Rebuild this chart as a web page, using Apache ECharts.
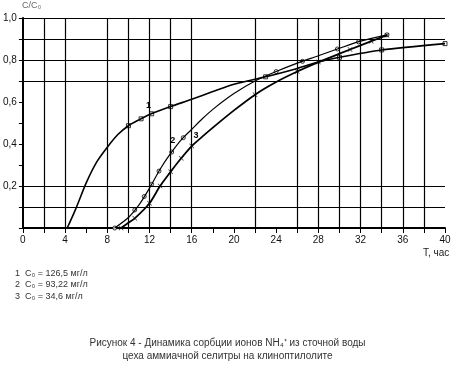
<!DOCTYPE html>
<html>
<head>
<meta charset="utf-8">
<script src="https://cdn.jsdelivr.net/npm/echarts@6/dist/echarts.min.js"></script>
<style>
html,body{margin:0;padding:0;background:#fff;}
#chart{width:455px;height:365px;}
</style>
</head>
<body>
<div id="chart"></div>
<script>
// ---- data ----
const curve1X = [4.2, 5, 6, 7, 8, 9, 10, 11, 12, 14, 16, 18, 20, 23, 26, 28, 30, 34, 40];
const curve1Y = [0, 0.09, 0.215, 0.315, 0.385, 0.445, 0.487, 0.515, 0.54, 0.578, 0.613, 0.65, 0.685, 0.72, 0.76, 0.79, 0.813, 0.848, 0.878];
const curve1MarkX = [10, 11.2, 12.2, 14, 23, 30, 34, 40];

const curve2X = [8.7, 10, 11, 12, 13, 14, 15, 16, 17, 18, 20, 22, 24, 26, 28, 30, 32, 34.5];
const curve2Y = [0, 0.05, 0.11, 0.19, 0.28, 0.355, 0.42, 0.47, 0.52, 0.565, 0.64, 0.7, 0.745, 0.785, 0.82, 0.856, 0.89, 0.92];
const curve2MarkX = [8.7, 10.6, 11.5, 12.2, 12.9, 14.1, 15.2, 24, 26.5, 29.8, 31.8, 34.5];

const curve3X = [9.3, 10, 10.6, 12, 13, 14, 15, 16, 17, 18, 20, 22, 24, 26, 28, 30, 32, 34.5];
const curve3Y = [0, 0.025, 0.046, 0.118, 0.2, 0.268, 0.332, 0.39, 0.435, 0.478, 0.56, 0.635, 0.695, 0.745, 0.79, 0.83, 0.87, 0.918];
const curve3MarkX = [9.3, 10.6, 12, 13, 14, 15, 16, 22, 26, 28, 31, 33, 34.5];

const xGridLines = [2, 4, 8, 10, 12, 14, 16, 22, 26, 28, 30, 32, 34, 36, 38];
const yGridLines = [0.1, 0.2, 0.7, 0.8, 0.9, 1.0];
const xLabelValues = [0, 4, 8, 12, 16, 20, 24, 28, 32, 36, 40];
const yLabelValues = [0.2, 0.4, 0.6, 0.8, 1.0];

const curveLabels = ['1', '2', '3'];
const curveLabelPos = [[11.9, 0.585], [14.2, 0.415], [16.4, 0.44]];

const legendLines = ['1  C₀ = 126,5 мг/л', '2  C₀ = 93,22 мг/л', '3  C₀ = 34,6 мг/л'];
const captionLines = ['Рисунок 4 - Динамика сорбции ионов NH₄⁺ из сточной воды', 'цеха аммиачной селитры на клиноптилолите'];

// ---- helpers ----
function pairs(xs, ys) { return xs.map((x, i) => [x, ys[i]]); }
function interp(xs, ys, x) {
  for (let i = 0; i < xs.length - 1; i++) {
    if (x >= xs[i] && x <= xs[i + 1]) {
      const t = (x - xs[i]) / (xs[i + 1] - xs[i]);
      return ys[i] + t * (ys[i + 1] - ys[i]);
    }
  }
  return ys[ys.length - 1];
}
function marks(xs, ys, mx) { return mx.map(x => [x, interp(xs, ys, x)]); }

const crossPath = 'path://M0,1L1,0L5,4L9,0L10,1L6,5L10,9L9,10L5,6L1,10L0,9L4,5Z';
const FONT = 'Liberation Sans';

const chart = echarts.init(document.getElementById('chart'));
const option = {
  backgroundColor: '#fff',
  animation: false,
  grid: { left: 21, right: 10, top: 18, bottom: 137 },
  xAxis: {
    type: 'value', min: 0, max: 40, interval: 2,
    axisLine: { lineStyle: { color: '#000', width: 2 } },
    axisTick: { show: true, length: 5, lineStyle: { color: '#000', width: 1 } },
    axisLabel: {
      color: '#111', fontSize: 10, fontFamily: FONT, margin: 7,
      formatter: v => xLabelValues.indexOf(v) >= 0 ? String(v) : ''
    },
    splitLine: { show: false }
  },
  yAxis: {
    type: 'value', min: 0, max: 1, interval: 0.1,
    axisLine: { show: true, lineStyle: { color: '#000', width: 2 } },
    axisTick: { show: true, length: 4, lineStyle: { color: '#000', width: 1 } },
    axisLabel: {
      color: '#111', fontSize: 10, fontFamily: FONT, margin: 6,
      formatter: v => {
        const r = Math.round(v * 10) / 10;
        return yLabelValues.some(l => Math.abs(l - r) < 1e-6) ? r.toFixed(1).replace('.', ',') : '';
      }
    },
    splitLine: { show: false }
  },
  series: [
    {
      type: 'line', data: [], silent: true,
      markLine: {
        silent: true, symbol: 'none', label: { show: false },
        lineStyle: { color: '#000', width: 1.2, type: 'solid' },
        data: xGridLines.map(v => ({ xAxis: v })).concat(yGridLines.map(v => ({ yAxis: v })))
      }
    },
    {
      name: '1', type: 'line', data: pairs(curve1X, curve1Y), smooth: 0.25,
      showSymbol: false, lineStyle: { color: '#000', width: 1.6 }
    },
    {
      name: '2', type: 'line', data: pairs(curve2X, curve2Y), smooth: 0.25,
      showSymbol: false, lineStyle: { color: '#000', width: 1.2 }
    },
    {
      name: '3', type: 'line', data: pairs(curve3X, curve3Y), smooth: 0.25,
      showSymbol: false, lineStyle: { color: '#000', width: 1.8 }
    },
    {
      type: 'scatter', data: marks(curve1X, curve1Y, curve1MarkX),
      symbol: 'rect', symbolSize: 4,
      itemStyle: { color: '#fff', borderColor: '#000', borderWidth: 1 }
    },
    {
      type: 'scatter', data: marks(curve2X, curve2Y, curve2MarkX),
      symbol: 'circle', symbolSize: 4,
      itemStyle: { color: '#fff', borderColor: '#000', borderWidth: 1 }
    },
    {
      type: 'scatter', data: marks(curve3X, curve3Y, curve3MarkX),
      symbol: crossPath, symbolSize: 5,
      itemStyle: { color: '#000' }
    }
  ]
};
chart.setOption(option);

const g = [];
g.push({ type: 'text', left: 22, top: 1, style: { text: 'C/C₀', fill: '#666', font: '9px "' + FONT + '"' } });
g.push({ type: 'text', left: 423, top: 248, style: { text: 'T, час', fill: '#222', font: '10px "' + FONT + '"' } });
legendLines.forEach((t, i) => {
  g.push({ type: 'text', left: 15, top: 269 + i * 11.5, style: { text: t, fill: '#333', font: '9px "' + FONT + '"' } });
});
captionLines.forEach((t, i) => {
  g.push({ type: 'text', left: 'center', top: 338 + i * 13, style: { text: t, fill: '#333', font: '10px "' + FONT + '"' } });
});
curveLabels.forEach((t, i) => {
  const p = chart.convertToPixel({ gridIndex: 0 }, curveLabelPos[i]);
  g.push({ type: 'text', x: p[0], y: p[1], style: { text: t, fill: '#000', font: 'bold 9px "' + FONT + '"', textAlign: 'center', textVerticalAlign: 'middle' } });
});
chart.setOption({ graphic: g });
</script>
</body>
</html>
